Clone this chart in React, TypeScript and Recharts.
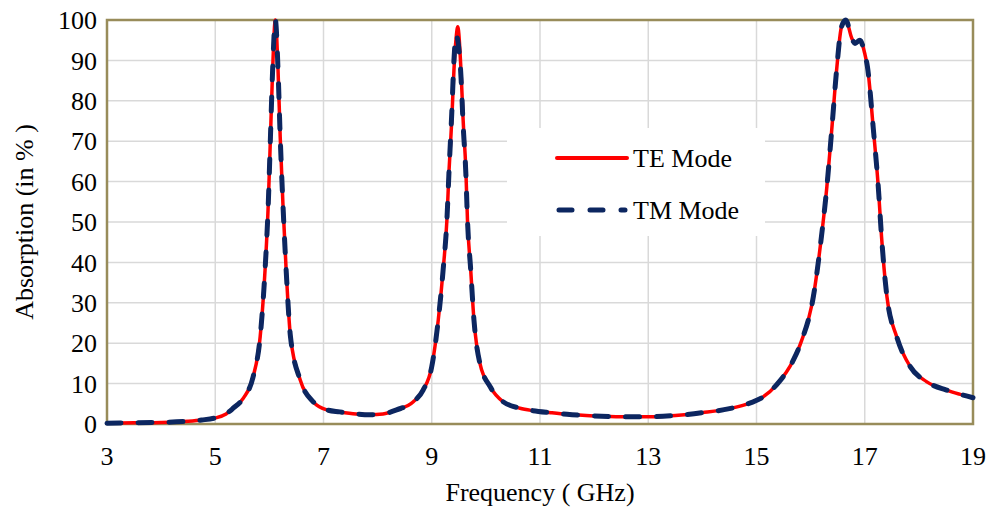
import { LineChart, Line, XAxis, YAxis, CartesianGrid, Legend, ReferenceArea } from "recharts"

// frequency samples (GHz) shared by both modes
const freq = [
  3.0, 3.5, 4.0, 4.5, 4.75, 5.0, 5.2, 5.33, 5.52, 5.7, 5.83, 5.92, 5.98, 6.02, 6.06, 6.11,
  6.16, 6.2, 6.25, 6.31, 6.39, 6.57, 6.81, 7.06, 7.3, 7.6, 7.85, 8.1, 8.35, 8.66, 8.84,
  9.0, 9.12, 9.21, 9.28, 9.32, 9.37, 9.41, 9.45, 9.48, 9.54, 9.58, 9.63, 9.66, 9.72, 9.78,
  9.89, 10.08, 10.32, 10.63, 10.87, 11.2, 11.5, 12.0, 12.5, 13.0, 13.5, 14.0, 14.5, 14.9,
  15.1, 15.37, 15.68, 15.83, 16.05, 16.2, 16.3, 16.39, 16.48, 16.57, 16.65, 16.76, 16.82,
  16.91, 17.0, 17.05, 17.16, 17.25, 17.31, 17.41, 17.59, 17.84, 18.14, 18.51, 18.75, 19.0,
]

// absorption (%) for TE polarisation
const teAbs = [
  0.2, 0.3, 0.4, 0.7, 1.0, 1.5, 2.5, 3.9, 6.4, 11.7, 21.6, 38.1, 54.6, 71.1, 87.6, 100,
  87.6, 71.1, 54.6, 38.1, 21.6, 10.9, 5.5, 3.5, 3.0, 2.5, 2.3, 2.5, 3.5, 5.5, 8.4,
  14.2, 25.7, 38.1, 50.5, 62.9, 75.2, 87.6, 95.5, 98.3, 87.6, 75.2, 62.9, 50.5, 38.1, 25.7,
  15.0, 9.2, 5.5, 3.9, 3.3, 2.8, 2.4, 2.0, 1.8, 1.8, 2.1, 2.8, 3.8, 5.3,
  6.5, 9.7, 15.8, 20.5, 31.5, 46.4, 58.7, 72.8, 87.6, 98.3, 100, 95.5, 94.2,
  95.0, 91.7, 88.4, 72.8, 58.7, 46.4, 31.5, 21.6, 14.2, 10.5, 8.4, 7.4, 6.5,
]

// absorption (%) for TM polarisation
const tmAbs = [
  0.2, 0.3, 0.4, 0.7, 1.0, 1.5, 2.5, 3.9, 6.4, 11.7, 21.6, 38.1, 54.6, 71.1, 87.6, 100,
  87.6, 71.1, 54.6, 38.1, 21.6, 10.9, 5.5, 3.5, 3.0, 2.5, 2.3, 2.5, 3.5, 5.5, 8.4,
  14.2, 25.7, 38.1, 50.5, 62.9, 77.0, 90.0, 96.3, 95.0, 86.0, 74.0, 62.0, 50.5, 38.1, 25.7,
  15.0, 9.2, 5.5, 3.9, 3.3, 2.8, 2.4, 2.0, 1.8, 1.8, 2.1, 2.8, 3.8, 5.3,
  6.5, 9.7, 15.8, 20.5, 31.5, 46.4, 58.7, 72.8, 87.6, 98.3, 100, 95.5, 94.2,
  95.0, 91.7, 88.4, 72.8, 58.7, 46.4, 31.5, 21.6, 14.2, 10.5, 8.4, 7.4, 6.5,
]

const xTicks = [3, 5, 7, 9, 11, 13, 15, 17, 19]
const yTicks = [0, 10, 20, 30, 40, 50, 60, 70, 80, 90, 100]

const data = freq.map((f, i) => ({ f, te: teAbs[i], tm: tmAbs[i] }))

const FONT = "'Liberation Serif', 'Times New Roman', serif"
const RED = "#ff0000"
const NAVY = "#0c2660"

function ModeLegend() {
  return (
    <svg width={258} height={108}>
      <line x1={50} x2={120} y1={30} y2={30} stroke={RED} strokeWidth={4} strokeLinecap="round" />
      <text x={126} y={39} fontSize={26} fontFamily={FONT} fill="#000">TE Mode</text>
      <line
        x1={52} x2={118} y1={82} y2={82}
        stroke={NAVY} strokeWidth={5} strokeDasharray="13 18" strokeLinecap="round"
      />
      <text x={126} y={91} fontSize={26} fontFamily={FONT} fill="#000">TM Mode</text>
    </svg>
  )
}

export default function App() {
  const tickStyle = { fontSize: 26, fontFamily: FONT, fill: "#000" }
  return (
    <div style={{ position: "absolute", left: 0, top: 0, background: "#fff" }}>
      <LineChart width={987} height={511} data={data} margin={{ top: 20, right: 14, left: 0, bottom: 0 }}>
        <CartesianGrid stroke="#d9d9d9" strokeWidth={1.5} />
        <XAxis
          dataKey="f"
          type="number"
          domain={[3, 19]}
          ticks={xTicks}
          height={87}
          tickSize={0}
          tickMargin={23}
          axisLine={false}
          tick={tickStyle}
          label={{
            content: () => (
              <text x={540} y={501} textAnchor="middle" fontSize={26} fontFamily={FONT} fill="#000">
                Frequency ( GHz)
              </text>
            ),
          }}
        />
        <YAxis
          type="number"
          domain={[0, 100]}
          ticks={yTicks}
          width={107}
          tickSize={0}
          tickMargin={10}
          axisLine={false}
          tick={tickStyle}
          label={{
            content: () => (
              <text
                x={24} y={222} transform="rotate(-90 24 222)"
                textAnchor="middle" dominantBaseline="central"
                fontSize={26} fontFamily={FONT} fill="#000"
              >
                Absorption (in % )
              </text>
            ),
          }}
        />
        <ReferenceArea x1={3} x2={19} y1={0} y2={100} fill="none" stroke="#988c5a" strokeWidth={2.5} />
        <Line
          dataKey="te"
          type="monotone"
          stroke={RED}
          strokeWidth={3.5}
          dot={false}
          isAnimationActive={false}
        />
        <Line
          dataKey="tm"
          type="monotone"
          stroke={NAVY}
          strokeWidth={5}
          strokeDasharray="14 17"
          strokeLinecap="round"
          dot={false}
          isAnimationActive={false}
        />
        <Legend
          layout="vertical"
          align="center"
          verticalAlign="middle"
          content={() => <ModeLegend />}
          wrapperStyle={{ left: 507, top: 128, width: 258, height: 108, background: "#fff" }}
        />
      </LineChart>
    </div>
  )
}
